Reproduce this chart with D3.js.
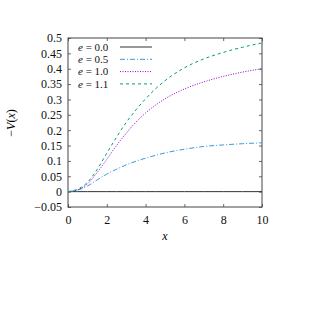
<!DOCTYPE html>
<html><head><meta charset="utf-8">
<script src="https://cdn.jsdelivr.net/npm/d3@7"></script>
<style>body{margin:0;background:#fff}svg{display:block}</style>
</head><body>
<svg id="c" width="315" height="315"></svg>
<script>
const xs  = [0, 0.5, 1, 1.5, 2, 2.5, 3, 3.5, 4, 4.5, 5, 6, 7, 8, 9, 10];
const e00 = [0, 0, 0, 0, 0, 0, 0, 0, 0, 0, 0, 0, 0, 0, 0, 0];
const e05 = [0, 0.005, 0.018, 0.038, 0.057, 0.073, 0.087, 0.099, 0.109, 0.118, 0.126, 0.138, 0.147, 0.152, 0.156, 0.159];
const e10 = [0, 0.006, 0.025, 0.062, 0.105, 0.15, 0.19, 0.226, 0.256, 0.281, 0.302, 0.334, 0.357, 0.375, 0.389, 0.40];
const e11 = [0, 0.008, 0.03, 0.072, 0.125, 0.177, 0.225, 0.266, 0.302, 0.334, 0.361, 0.403, 0.432, 0.453, 0.47, 0.484];
const seriesValues = ["0.0", "0.5", "1.0", "1.1"];
const xTicks = [0, 2, 4, 6, 8, 10];
const yTicks = [-0.05, 0, 0.05, 0.1, 0.15, 0.2, 0.25, 0.3, 0.35, 0.4, 0.45, 0.5];
const yTickLabels = ["\u22120.05","0","0.05","0.1","0.15","0.2","0.25","0.3","0.35","0.4","0.45","0.5"];

const FONT = "Liberation Serif";
const FS = 12;
const LFS = 11;
const styles = [
  {color:"#333333", dash:null, w:1},
  {color:"#3b99d4", dash:"5,2,1,2", w:1},
  {color:"#9400d3", dash:"1,1.5", w:1},
  {color:"#009e73", dash:"3,3", w:1}
];
const data = [e00, e05, e10, e11];

const L=68, R=262, T=38, B=207;
const svg = d3.select("#c");
const x = d3.scaleLinear().domain([0,10]).range([L,R]);
const y = d3.scaleLinear().domain([-0.05,0.5]).range([B,T]);
const frame = "#444";

const gB = svg.append("g").attr("transform",`translate(0,${B})`)
  .call(d3.axisBottom(x).tickValues(xTicks).tickSize(-3).tickPadding(8).tickFormat(d3.format("d")));
const gT = svg.append("g").attr("transform",`translate(0,${T})`)
  .call(d3.axisTop(x).tickValues(xTicks).tickSize(-3).tickFormat(""));
const gL = svg.append("g").attr("transform",`translate(${L},0)`)
  .call(d3.axisLeft(y).tickValues(yTicks).tickSize(-3).tickPadding(6).tickFormat((d,i)=>yTickLabels[i]));
const gR = svg.append("g").attr("transform",`translate(${R},0)`)
  .call(d3.axisRight(y).tickValues(yTicks).tickSize(-3).tickFormat(""));
[gB,gT,gL,gR].forEach(g=>{
  g.attr("font-family",FONT).attr("font-size",FS);
  g.select(".domain").remove();
  g.selectAll(".tick line").attr("stroke",frame).attr("stroke-width",0.8);
  g.selectAll(".tick text").attr("fill","#111");
});
svg.append("rect").attr("x",L).attr("y",T).attr("width",R-L).attr("height",B-T)
  .attr("fill","none").attr("stroke",frame).attr("stroke-width",1);

const line = d3.line().x((d,i)=>x(xs[i])).y(d=>y(d)).curve(d3.curveMonotoneX);
data.forEach((s,k)=>{
  svg.append("path").datum(s).attr("d",line).attr("fill","none")
    .attr("stroke",styles[k].color).attr("stroke-width",styles[k].w)
    .attr("stroke-dasharray",styles[k].dash);
});

seriesValues.forEach((v,k)=>{
  const cy = 47 + k*12.3;
  const t = svg.append("text").attr("x",78).attr("y",cy+3.7)
    .attr("font-family",FONT).attr("font-size",LFS).attr("fill","#111");
  t.append("tspan").attr("font-style","italic").text("e");
  t.append("tspan").text(" = " + v);
  svg.append("line").attr("x1",120).attr("x2",152).attr("y1",cy).attr("y2",cy)
    .attr("stroke",styles[k].color).attr("stroke-width",styles[k].w).attr("stroke-dasharray",styles[k].dash);
});

svg.append("text").attr("x",165).attr("y",240).attr("text-anchor","middle")
  .attr("font-family",FONT).attr("font-style","italic").attr("font-size",FS).text("x");
const yl = svg.append("text").attr("transform","translate(15,123) rotate(-90)")
  .attr("text-anchor","middle").attr("font-family",FONT).attr("font-size",FS);
yl.append("tspan").text("\u2212");
yl.append("tspan").attr("font-style","italic").text("V");
yl.append("tspan").text("(");
yl.append("tspan").attr("font-style","italic").text("x");
yl.append("tspan").text(")");
</script>
</body></html>
